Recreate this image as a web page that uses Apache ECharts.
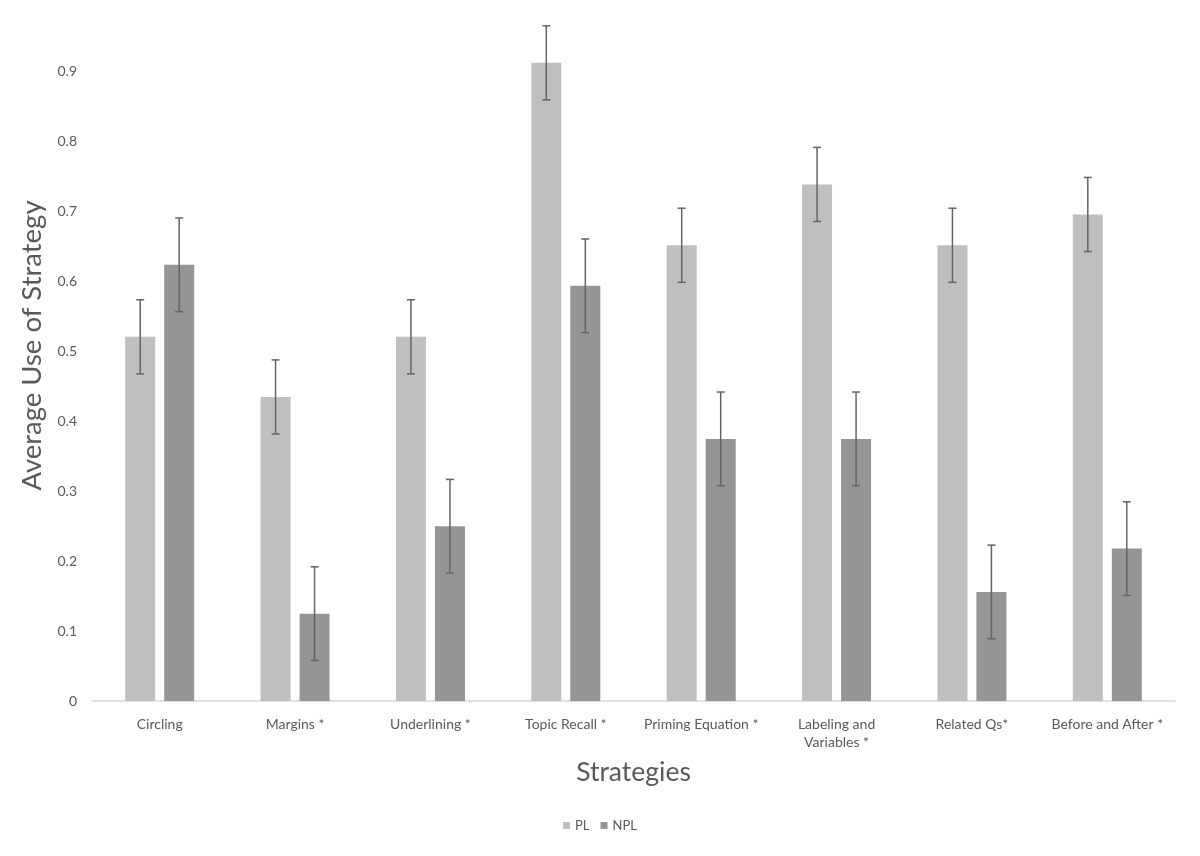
<!DOCTYPE html>
<html>
<head>
<meta charset="utf-8">
<script src="https://cdn.jsdelivr.net/npm/echarts@6/dist/echarts.min.js"></script>
<style>html,body{margin:0;padding:0;background:#fff;}#chart{width:1200px;height:856px;}</style>
</head>
<body>
<div id="chart"></div>
<script>
const categories = ['Circling', 'Margins *', 'Underlining *', 'Topic Recall *', 'Priming Equation *', 'Labeling and\nVariables *', 'Related Qs*', 'Before and After *'];
const seriesNames = ['PL', 'NPL'];
const plValues  = [0.521, 0.435, 0.521, 0.913, 0.652, 0.739, 0.652, 0.696];
const nplValues = [0.624, 0.125, 0.250, 0.594, 0.375, 0.375, 0.156, 0.218];
const plErrors  = [0.053, 0.053, 0.053, 0.053, 0.053, 0.053, 0.053, 0.053];
const nplErrors = [0.067, 0.067, 0.067, 0.067, 0.067, 0.067, 0.067, 0.067];
const yTicks = [0, 0.1, 0.2, 0.3, 0.4, 0.5, 0.6, 0.7, 0.8, 0.9];

const FONT = 'Lato';
const TXT = '#595959';
const BAR_W = 30, HALF_OFFSET = 19.5;

function errorData(values, errors) {
  return values.map((v, i) => [i, v - errors[i], v + errors[i]]);
}
function errorSeries(values, errors, dir) {
  return {
    type: 'custom',
    z: 10,
    silent: true,
    renderItem: function (params, api) {
      const lo = api.coord([api.value(0), api.value(1)]);
      const hi = api.coord([api.value(0), api.value(2)]);
      const x = lo[0] + dir * HALF_OFFSET;
      const cap = 4;
      const st = { stroke: '#646464', lineWidth: 1.5 };
      return {
        type: 'group',
        children: [
          { type: 'line', shape: { x1: x, y1: hi[1], x2: x, y2: lo[1] }, style: st },
          { type: 'line', shape: { x1: x - cap, y1: hi[1], x2: x + cap, y2: hi[1] }, style: st },
          { type: 'line', shape: { x1: x - cap, y1: lo[1], x2: x + cap, y2: lo[1] }, style: st }
        ]
      };
    },
    encode: { x: 0, y: [1, 2] },
    data: errorData(values, errors)
  };
}

const chart = echarts.init(document.getElementById('chart'));
chart.setOption({
  animation: false,
  textStyle: { fontFamily: FONT },
  grid: { left: 92, right: 25, top: 2, bottom: 155 },
  legend: {
    data: seriesNames,
    bottom: 19,
    left: 'center',
    itemWidth: 7,
    itemHeight: 7,
    itemGap: 11,
    icon: 'rect',
    textStyle: { color: TXT, fontSize: 13, fontFamily: FONT }
  },
  xAxis: {
    type: 'category',
    data: categories,
    name: 'Strategies',
    nameLocation: 'middle',
    nameGap: 58,
    nameTextStyle: { fontSize: 26.5, color: TXT, fontFamily: FONT },
    axisLine: { lineStyle: { color: '#d9d9d9', width: 1.5 } },
    axisTick: { show: false },
    axisLabel: { color: TXT, fontSize: 14, margin: 14, interval: 0, lineHeight: 18, fontFamily: FONT }
  },
  yAxis: {
    type: 'value',
    min: 0,
    max: 1,
    interval: 0.1,
    name: 'Average Use of Strategy',
    nameLocation: 'middle',
    nameGap: 42,
    nameTextStyle: { fontSize: 27.5, color: TXT, fontFamily: FONT, padding: [0, 0, 0, 12] },
    axisLine: { show: false },
    axisTick: { show: false },
    splitLine: { show: false },
    axisLabel: {
      color: TXT, fontSize: 14, margin: 15, fontFamily: FONT,
      showMaxLabel: false,
      formatter: function (v) {
        const t = yTicks.find(k => Math.abs(k - v) < 1e-9);
        return t === undefined ? '' : String(t);
      }
    }
  },
  series: [
    { name: 'PL', type: 'bar', data: plValues, barWidth: BAR_W, barGap: '30%', itemStyle: { color: '#bfbfbf' } },
    { name: 'NPL', type: 'bar', data: nplValues, barWidth: BAR_W, barGap: '30%', itemStyle: { color: '#959595' } },
    errorSeries(plValues, plErrors, -1),
    errorSeries(nplValues, nplErrors, 1)
  ]
});
</script>
</body>
</html>
